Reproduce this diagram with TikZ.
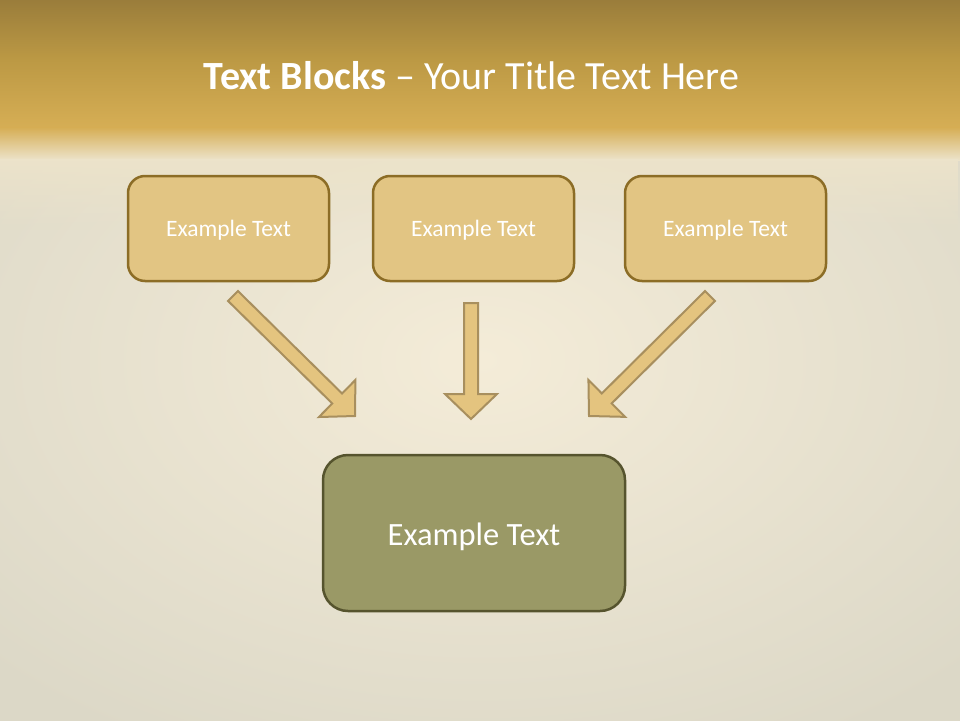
\documentclass[tikz,border=0pt]{standalone}
\usepackage{fontspec}
\setmainfont{Carlito}
\usetikzlibrary{calc,fadings}
\definecolor{hdrTop}{HTML}{9A7D3B}
\definecolor{hdrMid}{HTML}{BC9944}
\definecolor{hdrBot}{HTML}{D6AE55}
\definecolor{bgFade}{HTML}{ECE3CA}
\definecolor{bgIn}{HTML}{F4ECD8}
\definecolor{bgOut}{HTML}{DCD8C7}
\definecolor{boxFill}{HTML}{E2C583}
\definecolor{boxLine}{HTML}{8C6D26}
\definecolor{mainFill}{HTML}{9A9966}
\definecolor{mainLine}{HTML}{56542E}
\definecolor{arrFill}{HTML}{E4C47F}
\definecolor{arrLine}{HTML}{A88F5E}
\tikzfading[name=fadedown, top color=transparent!0, bottom color=transparent!100]
\tikzset{
  topbox/.style={draw=boxLine, fill=boxFill, line width=2.5pt, rounded corners=17pt,
    minimum width=201pt, minimum height=105pt, inner sep=0pt, text=white,
    font=\fontsize{23.5}{28}\selectfont},
  mainbox/.style={draw=mainLine, fill=mainFill, line width=2.5pt, rounded corners=25pt,
    minimum width=302pt, minimum height=156pt, inner sep=0pt, text=white,
    font=\fontsize{32.5}{38}\selectfont},
  blockarrow/.style={draw=arrLine, fill=arrFill, line width=2pt, line join=miter},
}
\newcommand{\mkblockarrow}[2]{%
  \coordinate (#1#2base) at ($(#2)!25pt!(#1)$);
  \draw[blockarrow] ($(#1)!7pt!90:(#2)$) -- ($(#1#2base)!7pt!90:(#2)$)
    -- ($(#1#2base)!26pt!90:(#2)$) -- (#2) -- ($(#1#2base)!26pt!-90:(#2)$)
    -- ($(#1#2base)!7pt!-90:(#2)$) -- ($(#1)!7pt!-90:(#2)$) -- cycle;%
}
\newcommand{\lowertext}[2]{\raisebox{-#1}[\height][\depth]{#2}}
\begin{document}
\begin{tikzpicture}[x=1pt,y=-1pt]
\useasboundingbox (0,0) rectangle (960,720);
% background
\shade[inner color=bgIn, outer color=bgOut] (-200,-80) rectangle (1160,800);
\shade[top color=hdrTop, bottom color=hdrMid] (0,0) rectangle (960,60);
\shade[top color=hdrMid, bottom color=hdrBot] (0,60) rectangle (960,128);
\shade[top color=hdrBot, bottom color=bgFade] (0,127.5) rectangle (960,160);
\fill[bgFade, path fading=fadedown] (0,159.5) rectangle (960,230);
% title
\node[text=white, font=\fontsize{40}{46}\selectfont, anchor=base] (title) at (471.5,89)
  {\textbf{Text Blocks} – Your Title Text Here};
% boxes
\node[topbox] (b1) at (228.5,228.5) {\lowertext{2pt}{Example Text}};
\node[topbox] (b2) at (473.5,228.5) {\lowertext{2pt}{Example Text}};
\node[topbox] (b3) at (725.5,228.5) {\lowertext{2pt}{Example Text}};
\node[mainbox] (m) at (474,533) {\lowertext{3.5pt}{Example Text}};
% arrows
\coordinate (s1) at (233,296); \coordinate (t1) at (355,416);
\coordinate (s2) at (471,303); \coordinate (t2) at (471,419);
\coordinate (s3) at (710,296); \coordinate (t3) at (589,416);
\mkblockarrow{s1}{t1}
\mkblockarrow{s2}{t2}
\mkblockarrow{s3}{t3}
\end{tikzpicture}
\end{document}
